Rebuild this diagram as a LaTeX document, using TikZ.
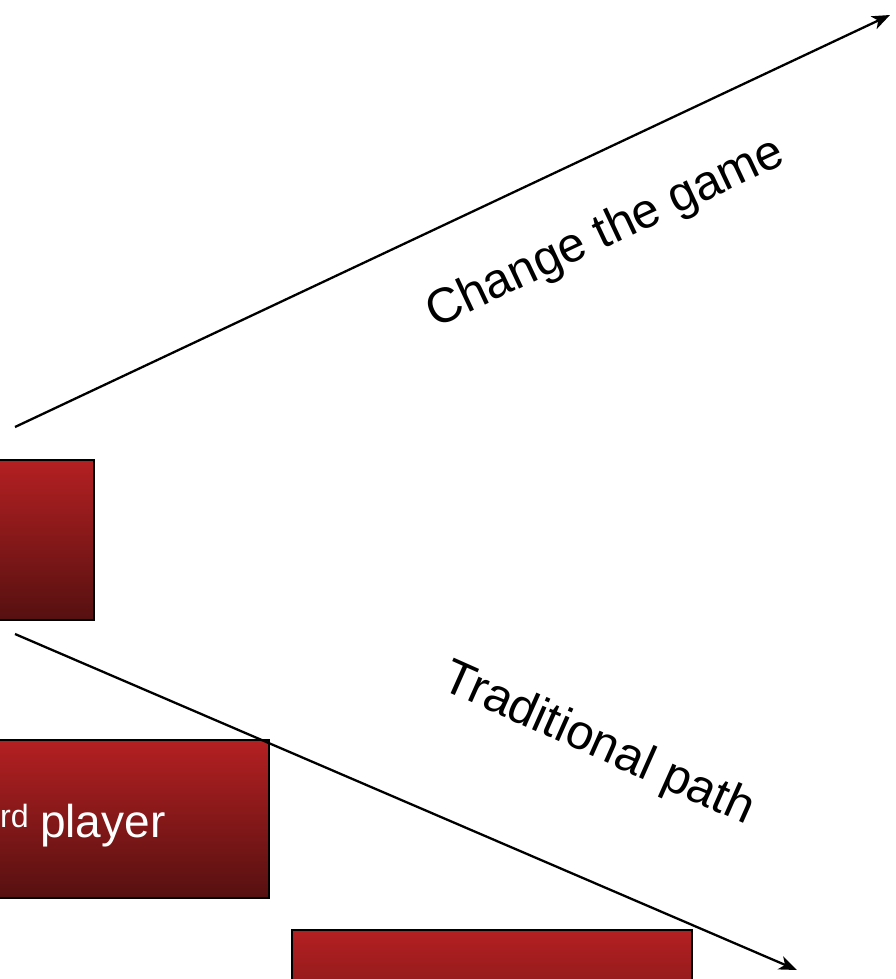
\documentclass[tikz,border=0pt]{standalone}
\usepackage{fontspec}
\setmainfont{Liberation Sans}
\usetikzlibrary{arrows.meta}
\definecolor{boxtop}{RGB}{180,32,34}
\definecolor{boxbottom}{RGB}{86,16,16}
\tikzset{
  redbox/.style={draw=black, line width=2.6pt, top color=boxtop, bottom color=boxbottom, minimum width=400pt, inner sep=0pt},
  pathlabel/.style={font=\fontsize{49}{58}\selectfont, inner sep=0pt},
  pathline/.style={line width=2.3pt, -{Stealth[length=18pt,width=14pt,inset=5pt]}}
}

\begin{document}
\begin{tikzpicture}[x=1pt, y=-1pt]
\useasboundingbox (0,0) rectangle (895,979);
\clip (0,0) rectangle (895,979);
% Boxes
    \node[redbox, minimum height=160pt] (first) at (-106,540) {};
    \node[redbox, minimum height=158pt] (third) at (69,819) {};
    \node[redbox, minimum height=158pt] (bottom) at (492,1009) {};
    \node[anchor=base west, inner sep=0pt, text=white, font=\fontsize{46}{56}\selectfont] (thirdtext) at (0,837) {\textsuperscript{rd}\hspace{-2pt} player};
% Ends of the two paths
    \coordinate (up start) at (15,427);
    \coordinate (up end) at (890,15);
    \coordinate (down start) at (15,634);
    \coordinate (down end) at (797,970);
% Paths
    \draw[pathline] (up start) -- (up end);
    \draw[pathline] (down start) -- (down end);
% Path labels
    \node[pathlabel, rotate=25.2] (change) at (606,234) {Change the game};
    \node[pathlabel, rotate=-24] (traditional) at (598,745) {Traditional path};
\end{tikzpicture}
\end{document}
